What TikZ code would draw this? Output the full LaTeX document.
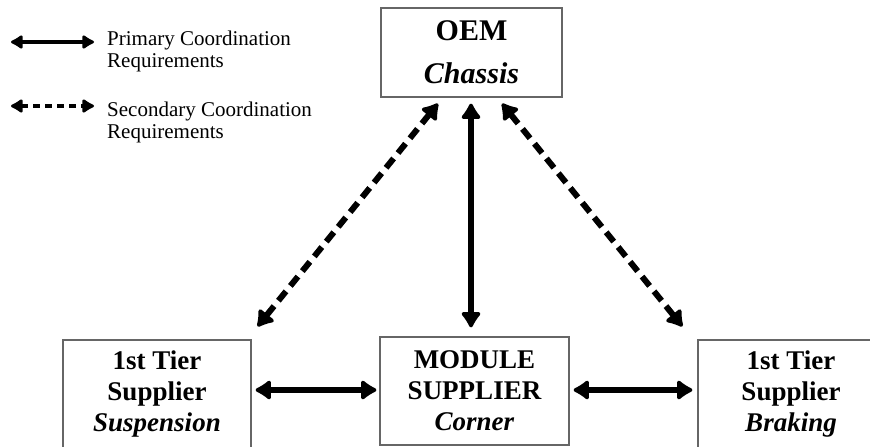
\documentclass[tikz,border=0pt]{standalone}
\usepackage{fontspec}
\setmainfont{Liberation Serif}
\usetikzlibrary{arrows.meta,calc}
\begin{document}
\begin{tikzpicture}[x=1pt,y=-1pt,
  box/.style={draw=black!60,line width=1.2pt,align=center,inner sep=0pt},
  bigtip/.tip={Latex[length=18pt,width=24pt,round]},
  smalltip/.tip={Latex[length=14pt,width=17pt,round]},
  prim/.style={line width=6pt,bigtip-bigtip},
  sec/.style={line width=6pt,dash pattern=on 12pt off 7pt,bigtip-bigtip},
  legprim/.style={line width=4.5pt,smalltip-smalltip},
  legsec/.style={line width=4.5pt,dash pattern=on 7pt off 5pt,smalltip-smalltip},
  legtext/.style={font=\fontsize{21}{22}\selectfont,align=left,anchor=north west,inner sep=0pt},
  topfont/.style={font=\fontsize{30}{43}\selectfont\bfseries},
  botfont/.style={font=\fontsize{27}{31}\selectfont\bfseries}]
\useasboundingbox (0,0) rectangle (870,447);

% legend
\coordinate (lp1) at (11,42);
\coordinate (lp2) at (94,42);
\coordinate (ls1) at (11,106);
\coordinate (ls2) at (94,106);
\draw[legprim] (lp1) -- (lp2);
\draw[legsec] (ls1) -- (ls2);
\node[legtext] (lt1) at (107,31) {Primary Coordination\\Requirements};
\node[legtext] (lt2) at (107,102) {Secondary Coordination\\Requirements};

% boxes
\node[box,topfont,minimum width=181pt,minimum height=89pt] (oem) at (471.5,52.5) {OEM\\\textit{Chassis}};
\node[box,botfont,minimum width=189pt,minimum height=108pt] (mod) at (474.5,391) {MODULE\\SUPPLIER\\\textit{Corner}};
\node[box,botfont,minimum width=188pt,minimum height=108pt] (sus) at (157,394) {1st Tier\\Supplier\\\textit{Suspension}};
\node[box,botfont,minimum width=186pt,minimum height=108pt] (brk) at (791,394) {1st Tier\\Supplier\\\textit{Braking}};

% connectors
\draw[prim,line width=5.5pt] ($(oem.south)+(-0.5,6)$) -- ($(mod.north)+(-3.5,-9)$);
\draw[sec] ($(oem.south)+(-33.5,6)$) -- ($(sus.north east)+(6,-13)$);
\draw[sec] ($(oem.south)+(30.5,6)$) -- ($(brk.north west)+(-15,-13)$);
\draw[prim] ($(sus.east)+(4,-4)$) -- ($(mod.west)+(-3,-1)$);
\draw[prim] ($(mod.east)+(4,-1)$) -- ($(brk.west)+(-5,-4)$);
\end{tikzpicture}
\end{document}
